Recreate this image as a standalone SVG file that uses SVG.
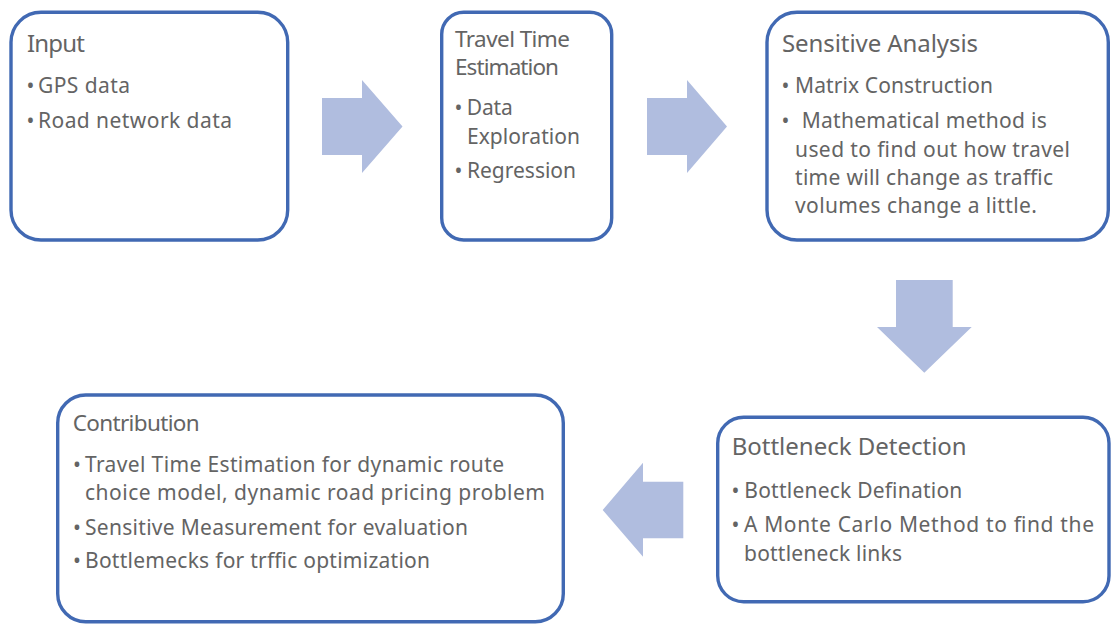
<svg xmlns="http://www.w3.org/2000/svg" width="1113" height="630" viewBox="0 0 1113 630">
<style>
.box{fill:#ffffff;stroke:#4169B3;stroke-width:3.4}
.arrow{fill:#B0BDDF;stroke:none}
text{font-family:"Noto Sans","Open Sans","DejaVu Sans",sans-serif;fill:#646464}
.t{font-size:24px}
.t2{font-size:22.5px}
.b{font-size:21px}
.dot{font-size:21px;text-anchor:middle}
</style>
<rect width="1113" height="630" fill="#ffffff"/>
<g id="connectors">
<polygon class="arrow" points="322,98 362,98 362,80 402.5,126.5 362,173 362,155 322,155"/>
<polygon class="arrow" points="647,98 687,98 687,80 727,126.5 687,173 687,155 647,155"/>
<polygon class="arrow" points="896,280 952.7,280 952.7,327 971.7,327 924.3,372.7 877,327 896,327"/>
<polygon class="arrow" points="683.3,481.7 643,481.7 643,462.7 602.7,510 643,556.7 643,538.3 683.3,538.3"/>
</g>
<g id="input">
<rect class="box" x="11" y="12.3" width="276.7" height="227.7" rx="30"/>
<text class="t" x="27" y="52" textLength="58">Input</text>
<text class="dot" x="30.5" y="93">•</text>
<text class="b" x="38" y="93" textLength="92">GPS data</text>
<text class="dot" x="30.5" y="127.7">•</text>
<text class="b" x="38" y="127.7" textLength="194">Road network data</text>
</g>
<g id="travel-time">
<rect class="box" x="441.7" y="12.3" width="170" height="227.7" rx="22"/>
<text class="t2" x="455" y="46.7" textLength="115">Travel Time</text>
<text class="t2" x="455" y="75" textLength="104">Estimation</text>
<text class="dot" x="458.5" y="115">•</text>
<text class="b" x="466.7" y="115" textLength="46">Data</text>
<text class="b" x="467" y="143.5" textLength="113">Exploration</text>
<text class="dot" x="458.5" y="178.3">•</text>
<text class="b" x="467" y="178.3" textLength="109">Regression</text>
</g>
<g id="sensitive">
<rect class="box" x="767" y="12.3" width="341.3" height="227.7" rx="30"/>
<text class="t" x="782" y="51.7" textLength="196">Sensitive Analysis</text>
<text class="dot" x="785.5" y="93.3">•</text>
<text class="b" x="795" y="93.3" textLength="198">Matrix Construction</text>
<text class="dot" x="785.5" y="127.7">•</text>
<text class="b" x="801.7" y="127.7" textLength="245">Mathematical method is</text>
<text class="b" x="795" y="156.7" textLength="275">used to find out how travel</text>
<text class="b" x="795" y="185" textLength="258">time will change as traffic</text>
<text class="b" x="795" y="213.3" textLength="242">volumes change a little.</text>
</g>
<g id="bottleneck">
<rect class="box" x="717.7" y="417.3" width="391.3" height="184.4" rx="26"/>
<text class="t" x="731.7" y="455" textLength="235">Bottleneck Detection</text>
<text class="dot" x="735.5" y="497.7">•</text>
<text class="b" x="744.3" y="497.7" textLength="218">Bottleneck Defination</text>
<text class="dot" x="735.5" y="531.7">•</text>
<text class="b" x="744" y="531.7" textLength="350">A Monte Carlo Method to find the</text>
<text class="b" x="744" y="560.7" textLength="158">bottleneck links</text>
</g>
<g id="contribution">
<rect class="box" x="57.7" y="395" width="505.6" height="226.7" rx="28"/>
<text class="t2" x="72.7" y="430.7" textLength="127">Contribution</text>
<text class="dot" x="77" y="471.7">•</text>
<text class="b" x="85" y="471.7" textLength="419">Travel Time Estimation for dynamic route</text>
<text class="b" x="85" y="500" textLength="460">choice model, dynamic road pricing problem</text>
<text class="dot" x="77" y="535">•</text>
<text class="b" x="85" y="535" textLength="383">Sensitive Measurement for evaluation</text>
<text class="dot" x="77" y="568.3">•</text>
<text class="b" x="85" y="568.3" textLength="345">Bottlemecks for trffic optimization</text>
</g>
</svg>
